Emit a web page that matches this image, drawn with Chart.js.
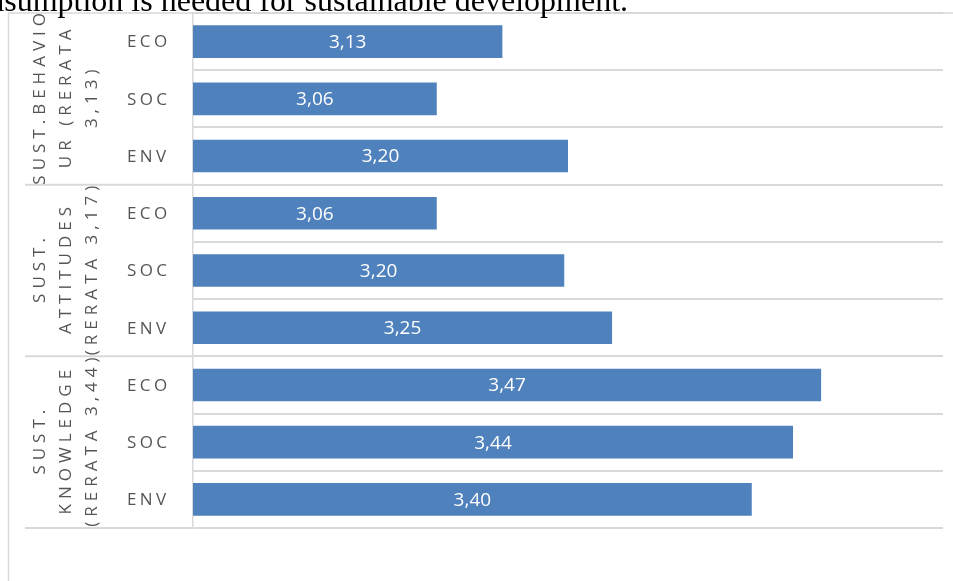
<!DOCTYPE html>
<html>
<head>
<meta charset="utf-8">
<script src="https://cdn.jsdelivr.net/npm/chart.js@4/dist/chart.umd.min.js"></script>
<style>
  html, body { margin: 0; padding: 0; background: #ffffff; overflow: hidden; }
  #wrap { position: relative; width: 953px; height: 581px; }
  #chart { position: absolute; left: 0; top: 0; }
  #caption { position: absolute; left: -42px; top: -16px; font-family: "Liberation Serif", "Times New Roman", serif; font-size: 32px; line-height: 32px; color: #000; white-space: nowrap; }
</style>
</head>
<body>
<div id="wrap">
  <canvas id="chart" width="953" height="581"></canvas>
  <div id="caption">consumption is needed for sustainable development.</div>
</div>
<script>
// ---- data ----
const subCategories = ["ECO", "SOC", "ENV", "ECO", "SOC", "ENV", "ECO", "SOC", "ENV"];
const groupLabels = [
  ["SUST.BEHAVIO", "UR (RERATA", "3,13)"],
  ["SUST.", "ATTITUDES", "(RERATA 3,17)"],
  ["SUST.", "KNOWLEDGE", "(RERATA 3,44)"]
];
const groupSizes = [3, 3, 3];
const values = [3.13, 3.06, 3.20, 3.06, 3.196, 3.247, 3.47, 3.44, 3.396];
const axisMin = 2.8;
const axisMax = 3.6;

const GRID = '#d9d9d9';
const TEXT = '#555555';
const FONT = '"Open Sans", "Liberation Sans", sans-serif';

const decorPlugin = {
  id: 'decor',
  afterDraw(chart) {
    const ctx = chart.ctx;
    const y = chart.scales.y;
    const area = chart.chartArea;
    ctx.save();
    // outer chart border (top and left)
    ctx.strokeStyle = GRID;
    ctx.lineWidth = 1.5;
    ctx.beginPath();
    ctx.moveTo(8, area.top);
    ctx.lineTo(953, area.top);
    ctx.moveTo(8.5, area.top);
    ctx.lineTo(8.5, 581);
    ctx.stroke();

    // group separators
    ctx.lineWidth = 2;
    let idx = 0;
    const boundaries = [];
    groupSizes.forEach((n) => {
      const first = idx;
      const last = idx + n - 1;
      const top = first === 0 ? area.top : (y.getPixelForValue(first - 1) + y.getPixelForValue(first)) / 2;
      const bottom = last === subCategories.length - 1 ? area.bottom : (y.getPixelForValue(last) + y.getPixelForValue(last + 1)) / 2;
      boundaries.push([top, bottom]);
      idx += n;
    });
    ctx.beginPath();
    boundaries.forEach(([t, b]) => {
      ctx.moveTo(25, b);
      ctx.lineTo(area.left, b);
    });
    ctx.stroke();

    // sub category labels
    ctx.fillStyle = TEXT;
    ctx.font = '17px ' + FONT;
    ctx.textAlign = 'left';
    ctx.textBaseline = 'middle';
    ctx.letterSpacing = '3.4px';
    subCategories.forEach((lab, i) => {
      ctx.fillText(lab, 127, y.getPixelForValue(i) + 1);
    });

    // group labels (rotated)
    ctx.font = '17px ' + FONT;
    ctx.letterSpacing = '5px';
    ctx.textAlign = 'center';
    const lineX = [40, 66, 92];
    groupLabels.forEach((lines, g) => {
      const [t, b] = boundaries[g];
      const cy = (t + b) / 2;
      lines.forEach((ln, k) => {
        ctx.save();
        ctx.translate(lineX[k], cy);
        ctx.rotate(-Math.PI / 2);
        ctx.fillText(ln, 2.5, 0);
        ctx.restore();
      });
    });

    // data labels
    ctx.letterSpacing = '0px';
    ctx.fillStyle = '#ffffff';
    ctx.font = '19px ' + FONT;
    ctx.textAlign = 'center';
    const meta = chart.getDatasetMeta(0);
    meta.data.forEach((bar, i) => {
      const txt = values[i].toFixed(2).replace('.', ',');
      const left = Math.max(Math.min(bar.x, bar.base), area.left);
      const right = Math.min(Math.max(bar.x, bar.base), area.right);
      ctx.fillText(txt, (left + right) / 2, bar.y + 1);
    });
    ctx.restore();
  }
};

new Chart(document.getElementById('chart'), {
  type: 'bar',
  data: {
    labels: subCategories,
    datasets: [{
      data: values,
      backgroundColor: '#4F81BD',
      borderWidth: 0,
      barPercentage: 0.57,
      categoryPercentage: 1.0
    }]
  },
  options: {
    indexAxis: 'y',
    responsive: false,
    animation: false,
    layout: { padding: { left: 193, top: 13, right: 10, bottom: 53 } },
    plugins: { legend: { display: false }, tooltip: { enabled: false } },
    scales: {
      x: { display: false, min: axisMin, max: axisMax },
      y: {
        display: true,
        offset: true,
        ticks: { display: false },
        grid: { offset: true, color: GRID, lineWidth: 2, drawTicks: false },
        border: { display: true, color: GRID, width: 1.5 },
        afterFit(scale) { scale.width = 0; }
      }
    }
  },
  plugins: [decorPlugin]
});
</script>
</body>
</html>
